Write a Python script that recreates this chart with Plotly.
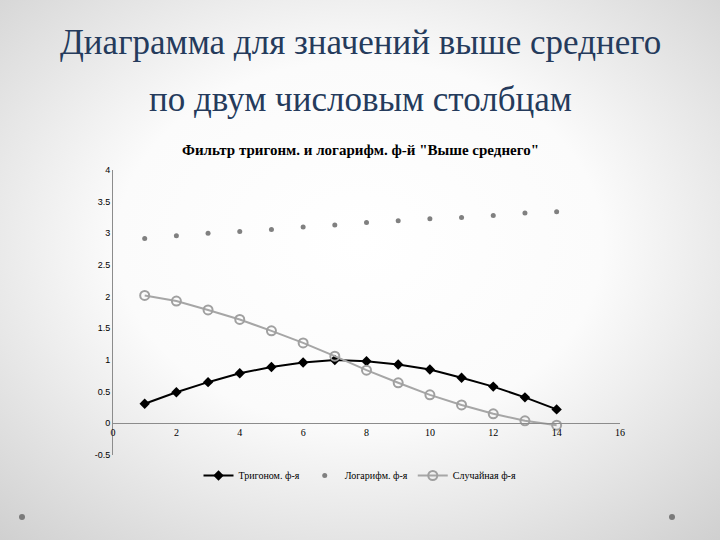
import base64
import plotly.graph_objects as go

x_vals = list(range(1, 15))
trig = [0.31, 0.49, 0.65, 0.79, 0.89, 0.96, 1.00, 0.98, 0.93, 0.85, 0.72, 0.58, 0.41, 0.22]
logf = [2.92, 2.96, 3.00, 3.03, 3.06, 3.10, 3.13, 3.17, 3.20, 3.23, 3.25, 3.28, 3.32, 3.34]
rand = [2.02, 1.93, 1.79, 1.64, 1.46, 1.27, 1.06, 0.84, 0.64, 0.45, 0.29, 0.15, 0.04, -0.03]

series_names = ["Тригоном. ф-я", "Логарифм. ф-я", "Случайная ф-я"]
y_ticks = [-0.5, 0, 0.5, 1, 1.5, 2, 2.5, 3, 3.5, 4]
y_tick_text = ["-0.5", "0", "0.5", "1", "1.5", "2", "2.5", "3", "3.5", "4"]
x_ticks = [0, 2, 4, 6, 8, 10, 12, 14, 16]

main_title = "Диаграмма для значений выше среднего"
sub_title = "по двум числовым столбцам"
chart_title = 'Фильтр тригонм. и логарифм. ф-й "Выше среднего"'

SERIF = "Liberation Serif"

svg = ('<svg xmlns="http://www.w3.org/2000/svg" width="720" height="540">'
       '<defs><radialGradient id="g" cx="50%" cy="45%" r="75%">'
       '<stop offset="0%" stop-color="#ffffff"/>'
       '<stop offset="45%" stop-color="#fbfbfb"/>'
       '<stop offset="100%" stop-color="#cfcfcf"/>'
       '</radialGradient></defs>'
       '<rect width="720" height="540" fill="url(#g)"/></svg>')
bg = "data:image/svg+xml;base64," + base64.b64encode(svg.encode()).decode()

fig = go.Figure()
fig.add_trace(go.Scatter(x=x_vals, y=trig, name=series_names[0], mode="lines+markers",
                         line=dict(color="black", width=2),
                         marker=dict(symbol="diamond", size=8, color="black")))
fig.add_trace(go.Scatter(x=x_vals, y=logf, name=series_names[1], mode="markers",
                         marker=dict(symbol="circle", size=5, color="#808080")))
fig.add_trace(go.Scatter(x=x_vals, y=rand, name=series_names[2], mode="lines+markers",
                         line=dict(color="#a6a6a6", width=2),
                         marker=dict(symbol="circle-open", size=9, color="#a0a0a0",
                                     line=dict(width=2, color="#a0a0a0"))))

ydom = [1 - 455 / 540, 1 - 170 / 540]
yrange = [-0.5, 4]
xpos = ydom[0] + (0 - yrange[0]) / (yrange[1] - yrange[0]) * (ydom[1] - ydom[0])

fig.update_layout(
    width=720, height=540,
    margin=dict(l=0, r=0, t=0, b=0, autoexpand=False),
    paper_bgcolor="#f2f2f2",
    plot_bgcolor="rgba(0,0,0,0)",
    font=dict(family=SERIF),
    showlegend=True,
    legend=dict(orientation="h", x=0.5, xanchor="center", y=1 - 461 / 540, yanchor="top",
                bgcolor="rgba(0,0,0,0)",
                font=dict(family=SERIF, size=10, color="black"),
                itemwidth=30, tracegroupgap=0),
    xaxis=dict(domain=[113 / 720, 620 / 720], range=[0, 16], tickvals=x_ticks,
               showgrid=False, zeroline=False, showline=True, linecolor="#8c8c8c",
               linewidth=1, anchor="free", position=xpos, ticks="", automargin=False,
               tickfont=dict(family=SERIF, size=10, color="black")),
    yaxis=dict(domain=ydom, range=yrange, tickvals=y_ticks, ticktext=y_tick_text,
               showgrid=False, zeroline=False, showline=True, linecolor="#8c8c8c",
               linewidth=1, ticks="", automargin=False,
               tickfont=dict(family="Liberation Sans", size=9, color="black")),
    images=[dict(source=bg, xref="paper", yref="paper", x=0, y=1, sizex=1, sizey=1,
                 xanchor="left", yanchor="top", sizing="stretch", layer="below")],
    annotations=[
        dict(text=main_title, x=0.5, y=1 - 43 / 540, xref="paper", yref="paper",
             showarrow=False, xanchor="center", yanchor="middle",
             font=dict(family=SERIF, size=35, color="#253b5c")),
        dict(text=sub_title, x=0.5, y=1 - 100 / 540, xref="paper", yref="paper",
             showarrow=False, xanchor="center", yanchor="middle",
             font=dict(family=SERIF, size=35, color="#253b5c")),
        dict(text="<b>" + chart_title + "</b>", x=0.5, y=1 - 150 / 540, xref="paper",
             yref="paper", showarrow=False, xanchor="center", yanchor="middle",
             font=dict(family=SERIF, size=15, color="black")),
    ],
    shapes=[
        dict(type="circle", xref="paper", yref="paper", x0=19 / 720, x1=25 / 720,
             y0=1 - 520 / 540, y1=1 - 514 / 540, fillcolor="#7a7a7a", line=dict(width=0)),
        dict(type="circle", xref="paper", yref="paper", x0=669 / 720, x1=675 / 720,
             y0=1 - 520 / 540, y1=1 - 514 / 540, fillcolor="#7a7a7a", line=dict(width=0)),
    ],
)

fig.write_html("out.html", config={"displayModeBar": False},
               post_script="document.body.style.margin='0';")
